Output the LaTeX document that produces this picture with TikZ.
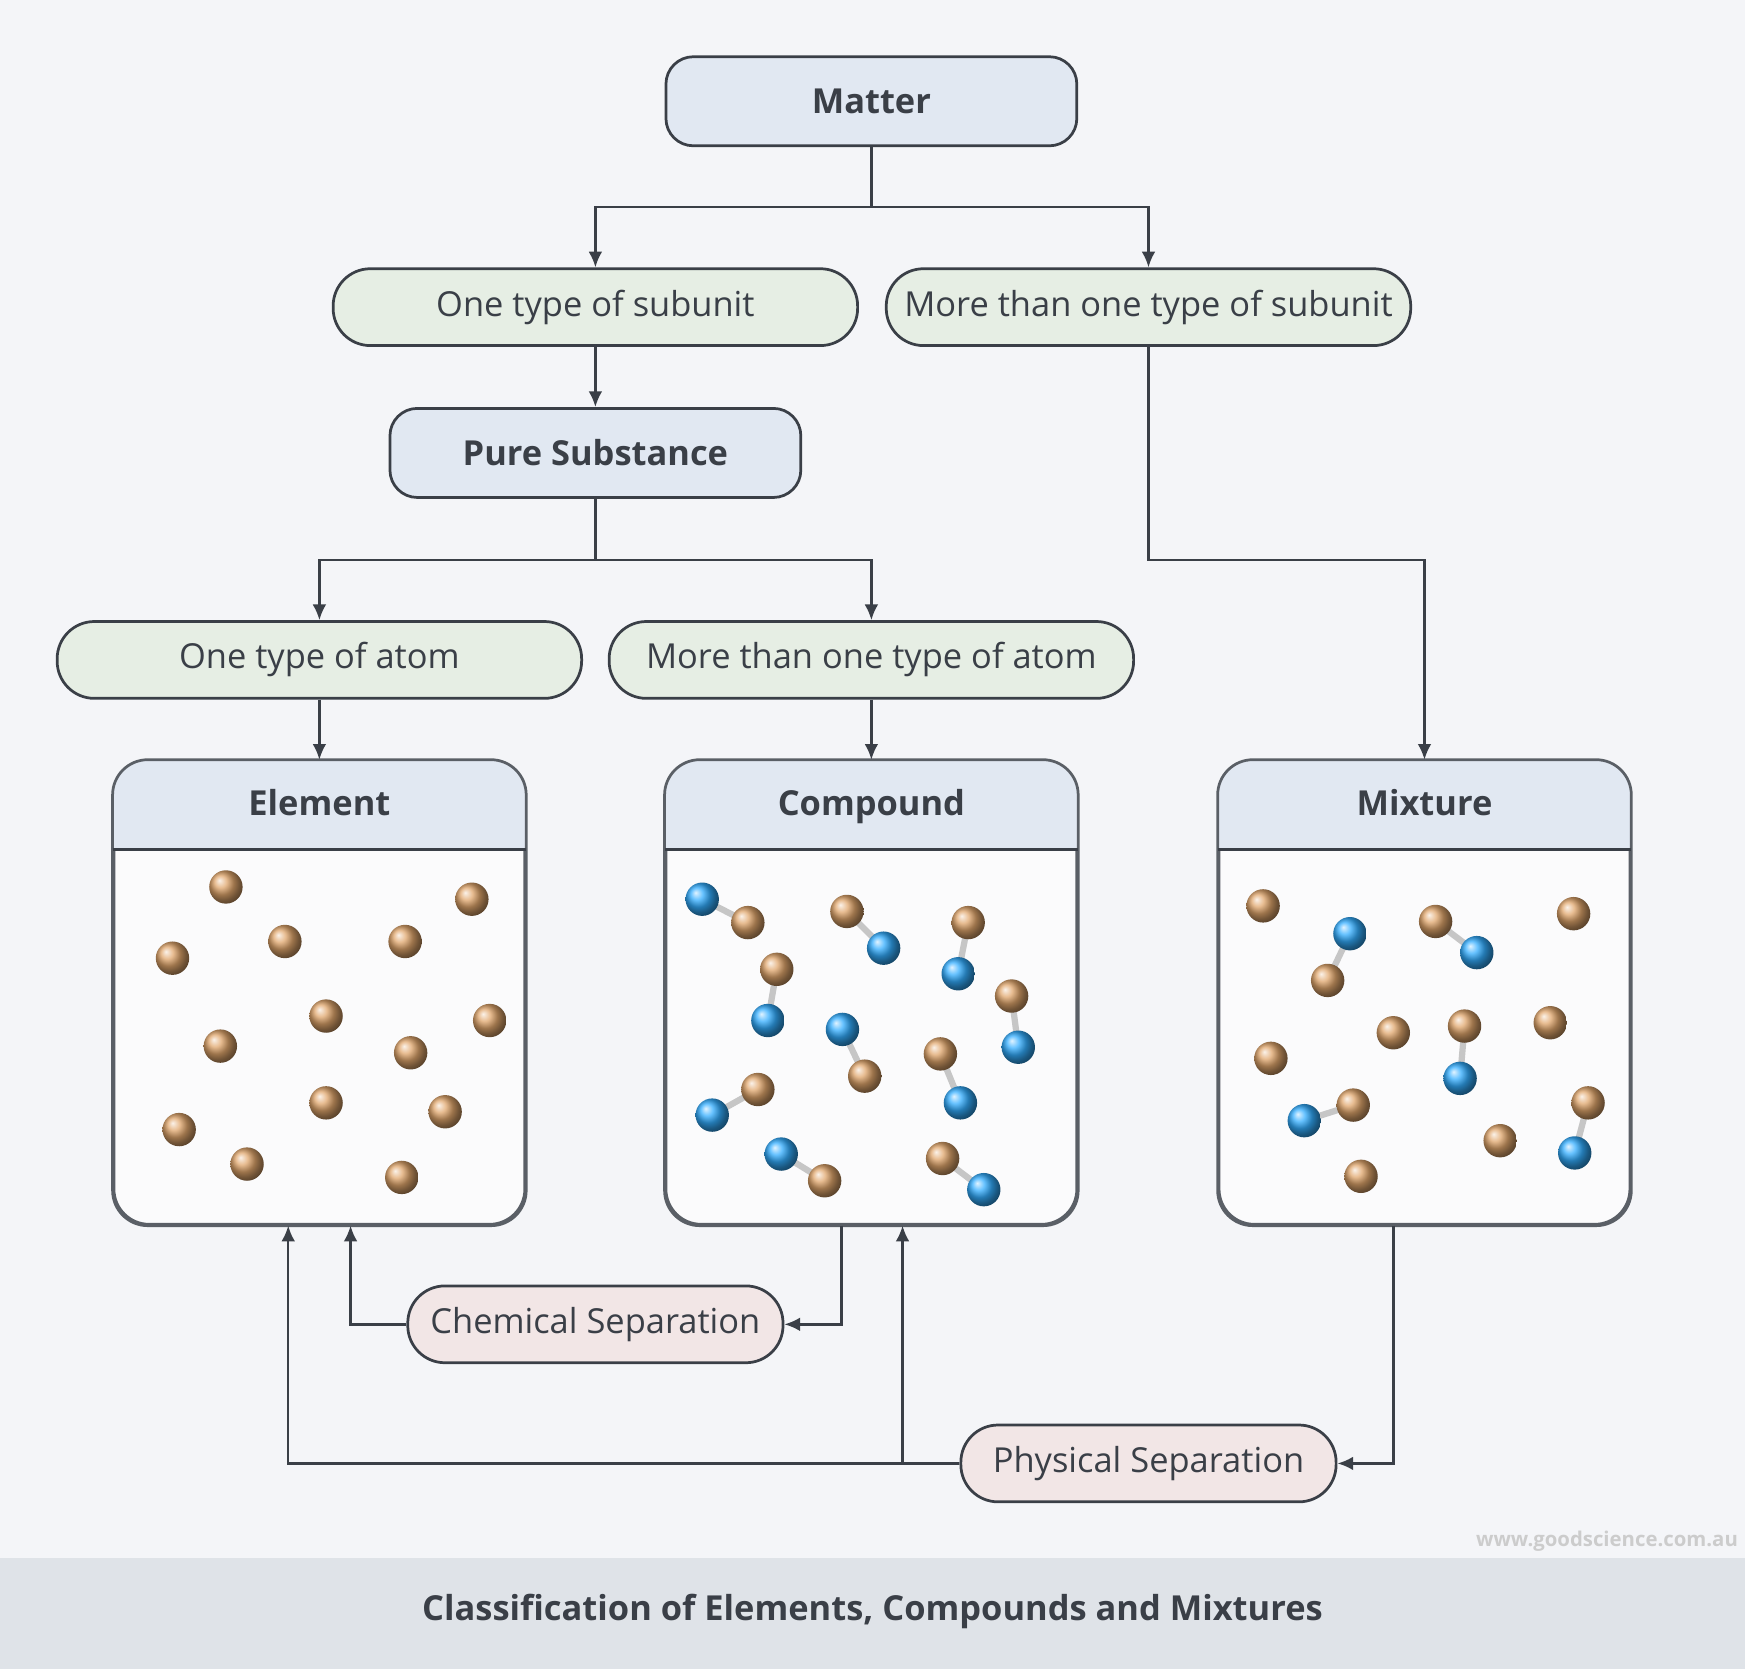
\documentclass[tikz,border=0pt]{standalone}
\usepackage{fontspec}
\setmainfont{Open Sans}
\usetikzlibrary{calc,arrows.meta,shadings}

\definecolor{bgcol}{HTML}{F4F5F8}
\definecolor{edge}{HTML}{3A3F47}
\definecolor{paneledge}{HTML}{5A5F66}
\definecolor{hdrblue}{HTML}{E1E8F2}
\definecolor{leafgreen}{HTML}{E6EEE4}
\definecolor{seppink}{HTML}{F2E6E6}
\definecolor{barcol}{HTML}{DFE3E8}
\definecolor{txtcol}{HTML}{3A3F47}

\tikzset{
  box/.style={draw=edge,line width=0.7pt,rounded corners=7pt,fill=hdrblue,
    minimum width=3.69cm,minimum height=0.8cm,text=txtcol,font=\fontsize{8.8}{10}\selectfont\bfseries},
  leaf/.style={draw=edge,line width=0.7pt,rounded corners=9.5pt,fill=leafgreen,
    minimum width=4.71cm,minimum height=0.69cm,text=txtcol,font=\fontsize{8.8}{10}\selectfont},
  sep/.style={leaf,fill=seppink,minimum width=3.37cm},
  link/.style={draw=edge,line width=0.6pt,-{Latex[length=4pt,width=3.5pt]}},
  bond/.style={draw=gray!45,line width=1.6pt},
}
% atoms
\newcommand{\brownatom}[1]{\shade[ball color={brown!70!orange!70!white}] #1 circle (15);}
\newcommand{\blueatom}[1]{\shade[ball color={cyan!60!blue!80!white}] #1 circle (15);}
\newcommand{\pairbB}[2]{\draw[bond] #1 -- #2; \brownatom{#1}\blueatom{#2}}
% panel with header
\newcommand{\panel}[4]{%
  \node[draw=paneledge,line width=0.7pt,rounded corners=9pt,fill=white!60!bgcol,
    minimum width=3.69cm,minimum height=4.16cm] (#1) at (#2,892) {};
  \begin{scope}
    \clip[rounded corners=9pt] (#1.south west) rectangle (#1.north east);
    \fill[hdrblue] (#1.north west) rectangle ($(#1.north east)+(0,81)$);
  \end{scope}
  \draw[paneledge,line width=0.7pt,rounded corners=9pt] (#1.south west) rectangle (#1.north east);
  \draw[edge,line width=0.7pt] ($(#1.north west)+(0,81)$) -- ($(#1.north east)+(0,81)$);
  \node[text=txtcol,anchor=base,font=\fontsize{8.8}{10}\selectfont\bfseries] (#1title) at ($(#1.north)+(0,50)$) {#3};
}

\begin{document}
\begin{tikzpicture}[x=0.01cm,y=-0.01cm]
  \fill[bgcol] (0,0) rectangle (1568,1500);
  \useasboundingbox (0,0) rectangle (1568,1500);
  \fill[barcol] (0,1400) rectangle (1568,1500);
  \node[text=txtcol,font=\fontsize{8.8}{10}\selectfont\bfseries] (caption) at (784,1448)
    {Classification of Elements, Compounds and Mixtures};
  \node[text=gray!40,font=\fontsize{5.2}{6}\selectfont\bfseries] (web) at (1444,1385) {www.goodscience.com.au};

  % tree
  \node[box] (matter) at (783,91) {Matter};
  \node[leaf] (onesub) at (535,276) {One type of subunit};
  \node[leaf] (moresub) at (1032,276) {More than one type of subunit};
  \node[box] (pure) at (535,407) {Pure Substance};
  \node[leaf] (oneatom) at (287,593) {One type of atom};
  \node[leaf] (moreatom) at (783,593) {More than one type of atom};

  \panel{elem}{287}{Element}{}
  \panel{cmpd}{783}{Compound}{}
  \panel{mixt}{1280}{Mixture}{}

  \node[sep] (chem) at (535,1190) {Chemical Separation};
  \node[sep] (phys) at (1032,1315) {Physical Separation};

  % connectors
  \draw[link] (matter.south) -- (783,186) -| (onesub.north);
  \draw[link] (matter.south) -- (783,186) -| (moresub.north);
  \draw[link] (onesub) -- (pure);
  \draw[link] (pure.south) -- (535,503) -| (oneatom.north);
  \draw[link] (pure.south) -- (535,503) -| (moreatom.north);
  \draw[link] (moresub.south) -- (1032,503) -| (mixt.north);
  \draw[link] (oneatom) -- (elem);
  \draw[link] (moreatom) -- (cmpd);
  \draw[link] (cmpd.south -| 756,0) |- (chem.east);
  \draw[link] (chem.west) -| (elem.south -| 315,0);
  \draw[link] (mixt.south -| 1252,0) |- (phys.east);
  \draw[link] (phys.west) -| (elem.south -| 259,0);
  \draw[link] (phys.west -| 811,0) -- (cmpd.south -| 811,0);

  % element atoms
  \foreach \p in {(203,797),(424,808),(155,861),(256,846),(364,846),(293,913),(440,917),
      (198,940),(369,946),(161,1015),(293,991),(400,999),(222,1046),(361,1058)}
    {\brownatom{\p}}

  % compound molecules
  \pairbB{(672,829)}{(631,808)}
  \pairbB{(761,819)}{(794,852)}
  \pairbB{(870,829)}{(861,875)}
  \pairbB{(698,871)}{(690,917)}
  \pairbB{(909,895)}{(915,941)}
  \pairbB{(777,967)}{(757,925)}
  \pairbB{(845,947)}{(863,991)}
  \pairbB{(681,979)}{(640,1002)}
  \pairbB{(741,1061)}{(702,1037)}
  \pairbB{(847,1041)}{(884,1069)}

  % mixture
  \foreach \p in {(1135,814),(1414,821),(1252,928),(1393,919),(1142,951),(1348,1025),(1223,1057)}
    {\brownatom{\p}}
  \pairbB{(1193,881)}{(1213,839)}
  \pairbB{(1290,828)}{(1327,856)}
  \pairbB{(1316,922)}{(1312,969)}
  \pairbB{(1216,993)}{(1172,1007)}
  \pairbB{(1427,991)}{(1415,1036)}
\end{tikzpicture}
\end{document}
